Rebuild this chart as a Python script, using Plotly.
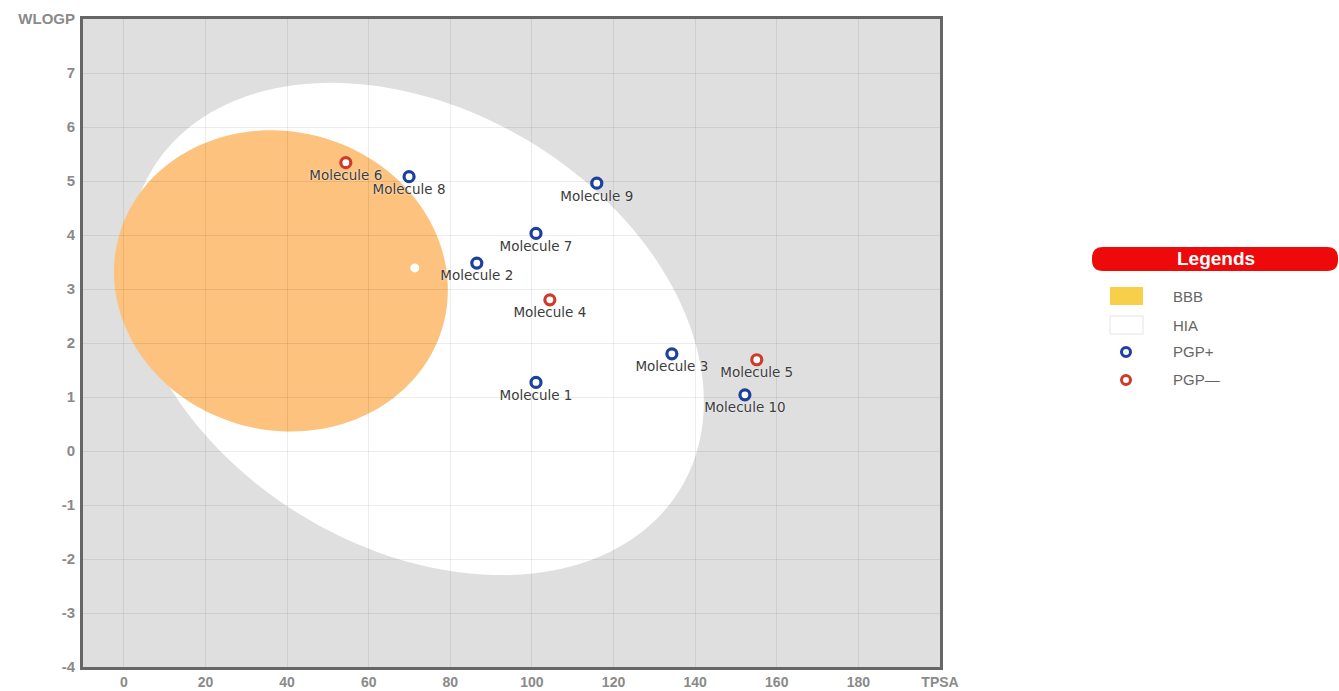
import numpy as np
import plotly.graph_objects as go

# ---- data -------------------------------------------------------------
molecules = ["Molecule 1", "Molecule 2", "Molecule 3", "Molecule 4", "Molecule 5",
             "Molecule 6", "Molecule 7", "Molecule 8", "Molecule 9", "Molecule 10"]
tpsa = [101.0, 86.5, 134.3, 104.4, 155.1, 54.4, 101.0, 69.9, 115.9, 152.2]
wlogp = [1.27, 3.48, 1.80, 2.80, 1.69, 5.34, 4.03, 5.08, 4.96, 1.04]
pgp_substrate = [True, True, True, False, False, False, True, True, True, True]

# extra point drawn in white without a label
extra_tpsa = [71.3]
extra_wlogp = [3.39]

x_ticks = [0, 20, 40, 60, 80, 100, 120, 140, 160, 180, 200]
x_ticktext = ["0", "20", "40", "60", "80", "100", "120", "140", "160", "180", "TPSA"]
y_ticks = [-4, -3, -2, -1, 0, 1, 2, 3, 4, 5, 6, 7, 8]
y_ticktext = ["-4", "-3", "-2", "-1", "0", "1", "2", "3", "4", "5", "6", "7", "WLOGP"]

legend_labels = ["BBB", "HIA", "PGP+", "PGP\u2014"]

# ellipse definitions: centre, semi-axes (in TPSA units), tilt in degrees
hia_ellipse = dict(cx=71.7, cy=2.26, a=75.7, b=53.8, angle=31.4)
bbb_ellipse = dict(cx=38.5, cy=3.15, a=41.2, b=36.7, angle=15.35)
ASPECT = 13.28  # TPSA units per WLOGP unit on screen

# ---- styling ----------------------------------------------------------
BLUE = "#1d3f9e"
RED = "#cf3b2b"
YOLK = "#fcc27e"
LEGEND_YELLOW = "#f8cf48"
FIG_W, FIG_H = 1339, 691
M_L, M_R, M_T, M_B = 83, 399, 19, 24
PLOT_W = FIG_W - M_L - M_R
PLOT_H = FIG_H - M_T - M_B


def ellipse_path(cx, cy, a, b, angle, n=180):
    t = np.linspace(0, 2 * np.pi, n)
    phi = np.radians(angle)
    xs = cx + a * np.cos(phi) * np.cos(t) - b * np.sin(phi) * np.sin(t)
    ys = cy - (a * np.sin(phi) * np.cos(t) + b * np.cos(phi) * np.sin(t)) / ASPECT
    pts = " L ".join(f"{x:.4f},{y:.4f}" for x, y in zip(xs, ys))
    return "M " + pts + " Z"


def px_to_paper(px, py):
    return (px - M_L) / PLOT_W, (FIG_H - M_B - py) / PLOT_H


def rounded_rect(x0, y0, x1, y1, r):
    # pixel rectangle -> paper path with rounded corners
    def P(x, y):
        u, v = px_to_paper(x, y)
        return f"{u:.5f},{v:.5f}"
    return (f"M {P(x0 + r, y0)} L {P(x1 - r, y0)} Q {P(x1, y0)} {P(x1, y0 + r)} "
            f"L {P(x1, y1 - r)} Q {P(x1, y1)} {P(x1 - r, y1)} "
            f"L {P(x0 + r, y1)} Q {P(x0, y1)} {P(x0, y1 - r)} "
            f"L {P(x0, y0 + r)} Q {P(x0, y0)} {P(x0 + r, y0)} Z")


fig = go.Figure()

# the egg: white (HIA) then yolk (BBB), beneath the grid
shapes = [
    dict(type="path", xref="x", yref="y", layer="below",
         path=ellipse_path(**hia_ellipse), fillcolor="white", line=dict(width=0)),
    dict(type="path", xref="x", yref="y", layer="below",
         path=ellipse_path(**bbb_ellipse), fillcolor=YOLK, line=dict(width=0)),
]

fig.add_trace(go.Scatter(
    x=extra_tpsa, y=extra_wlogp, mode="markers",
    marker=dict(size=9, color="white", line=dict(width=0)),
    hoverinfo="skip", showlegend=False))

for flag, color in [(True, BLUE), (False, RED)]:
    idx = [i for i, p in enumerate(pgp_substrate) if p == flag]
    fig.add_trace(go.Scatter(
        x=[tpsa[i] for i in idx], y=[wlogp[i] for i in idx],
        text=[molecules[i] for i in idx],
        mode="markers+text", textposition="bottom center",
        textfont=dict(family="DejaVu Sans", size=13.5, color="#3c3c3c",
                      shadow="0px 0px 2px rgba(255,255,255,0.9)"),
        marker=dict(size=10, color="white", line=dict(width=3.2, color=color)),
        showlegend=False))

# ---- legend panel -----------------------------------------------------
annotations = []
shapes.append(dict(type="path", xref="paper", yref="paper",
                   path=rounded_rect(1092, 247, 1338, 271, 11),
                   fillcolor="#ee0a0a", line=dict(width=0)))
lx, ly = px_to_paper(1216, 258)
annotations.append(dict(x=lx, y=ly, xref="paper", yref="paper", text="<b>Legends</b>",
                        showarrow=False, xanchor="center", yanchor="middle",
                        font=dict(family="Arial", size=19, color="white")))

# swatches
x0, y0 = px_to_paper(1110, 287)
x1, y1 = px_to_paper(1143, 305)
shapes.append(dict(type="rect", xref="paper", yref="paper", x0=x0, x1=x1, y0=y0, y1=y1,
                   fillcolor=LEGEND_YELLOW, line=dict(width=0)))
x0, y0 = px_to_paper(1110, 316)
x1, y1 = px_to_paper(1143, 334)
shapes.append(dict(type="rect", xref="paper", yref="paper", x0=x0, x1=x1, y0=y0, y1=y1,
                   fillcolor="white", line=dict(width=1, color="#e4e4e4")))
for cy, col in [(352, BLUE), (380, RED)]:
    ax, ay = px_to_paper(1126, cy)
    shapes.append(dict(type="circle", xref="paper", yref="paper",
                       xsizemode="pixel", ysizemode="pixel", xanchor=ax, yanchor=ay,
                       x0=-4.5, x1=4.5, y0=-4.5, y1=4.5,
                       fillcolor="white", line=dict(width=3, color=col)))

for label, cy in zip(legend_labels, [296, 325, 352, 380]):
    tx, ty = px_to_paper(1171, cy)
    annotations.append(dict(x=tx, y=ty, xref="paper", yref="paper", text=label,
                            showarrow=False, xanchor="left", yanchor="middle",
                            font=dict(family="Arial", size=15, color="#666666")))

axis_common = dict(
    showgrid=True, gridcolor="rgba(0,0,0,0.075)", gridwidth=1,
    zeroline=False, showline=True, linecolor="#666666", linewidth=3, mirror=True,
    ticks="", fixedrange=True, automargin=False,
)

fig.update_layout(
    width=FIG_W, height=FIG_H,
    margin=dict(l=M_L, r=M_R, t=M_T, b=M_B, pad=0, autoexpand=False),
    paper_bgcolor="white", plot_bgcolor="#dfdfdf",
    xaxis=dict(range=[-10, 200], tickvals=x_ticks, ticktext=x_ticktext,
               ticklabelstandoff=0,
               tickfont=dict(family="Arial", size=14, color="#8a8a8a", weight="bold"),
               **axis_common),
    yaxis=dict(range=[-4, 8], tickvals=y_ticks, ticktext=y_ticktext,
               ticklabelstandoff=2,
               tickfont=dict(family="Arial", size=15, color="#8a8a8a", weight="bold"),
               **axis_common),
    shapes=shapes, annotations=annotations,
    showlegend=False,
)

fig.write_html("out.html")
